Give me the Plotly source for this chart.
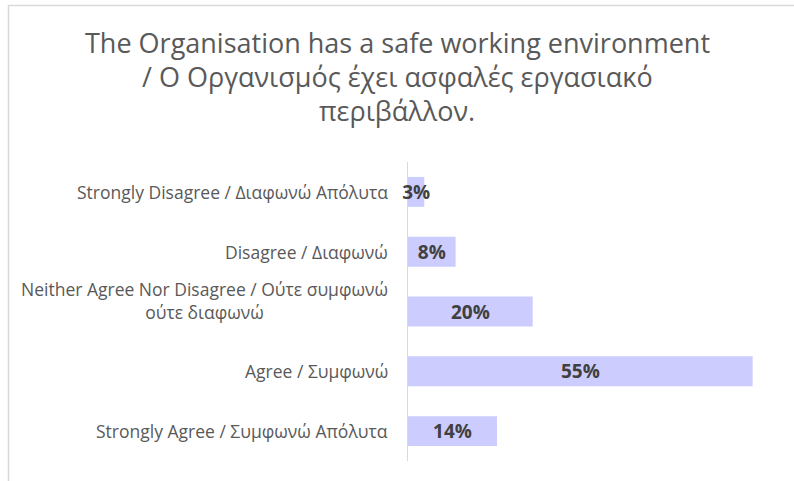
import plotly.graph_objects as go

categories = [
    "Strongly Disagree / Διαφωνώ Απόλυτα",
    "Disagree / Διαφωνώ",
    "Neither Agree Nor Disagree / Ούτε συμφωνώ<br>ούτε διαφωνώ",
    "Agree / Συμφωνώ",
    "Strongly Agree / Συμφωνώ Απόλυτα",
]
values = [2.6, 7.6, 19.9, 55.0, 14.2]
value_labels = ["3%", "8%", "20%", "55%", "14%"]
title_lines = [
    "The Organisation has a safe working environment",
    "/ Ο Οργανισμός έχει ασφαλές εργασιακό",
    "περιβάλλον.",
]

W, H = 794, 481
L, R, T, B = 408, 10, 162, 20
pw, ph = W - L - R, H - T - B

def px_x(p):
    return (p - L) / pw

def px_y(p):
    return (H - B - p) / ph

FONT = "'Open Sans', sans-serif"

fig = go.Figure(go.Bar(
    y=categories, x=values, orientation="h",
    marker=dict(color="#ccccff", line=dict(width=0)),
    text=value_labels, textposition="inside", insidetextanchor="middle",
    textangle=0, cliponaxis=False,
    textfont=dict(family=FONT, size=19, color="#404040", weight="bold"),
    hoverinfo="skip",
))

annotations = []
for c in categories:
    annotations.append(dict(
        x=px_x(390), xref="paper", y=c, yref="y", text=c,
        xanchor="right", yanchor="middle", align="center", showarrow=False,
        yshift=11 if "<br>" in c else 0,
        font=dict(family=FONT, size=17.5, color="#595959"),
    ))
title_y = [42, 77, 111]
for line, yy in zip(title_lines, title_y):
    annotations.append(dict(
        x=px_x(397), xref="paper", y=px_y(yy), yref="paper", text=line,
        xanchor="center", yanchor="middle", showarrow=False,
        font=dict(family=FONT, size=27, color="#595959"),
    ))

fig.update_layout(
    width=W, height=H,
    margin=dict(l=L, r=R, t=T, b=B),
    paper_bgcolor="white", plot_bgcolor="white",
    showlegend=False, bargap=0.5,
    uniformtext=dict(mode="show", minsize=19),
    xaxis=dict(range=[0, 60], visible=False, fixedrange=True),
    yaxis=dict(autorange="reversed", showticklabels=False, ticks="",
               showline=True, linecolor="#d9d9d9", linewidth=1,
               layer="below traces",
               showgrid=False, zeroline=False, fixedrange=True),
    annotations=annotations,
    shapes=[
        dict(type="line", xref="paper", yref="paper",
             x0=px_x(8), x1=px_x(800), y0=px_y(5.5), y1=px_y(5.5),
             line=dict(color="#d9d9d9", width=1.5)),
        dict(type="line", xref="paper", yref="paper",
             x0=px_x(8.5), x1=px_x(8.5), y0=px_y(5), y1=px_y(490),
             line=dict(color="#d9d9d9", width=1.5)),
    ],
)

fig.write_html("out.html", config={"displayModeBar": False})
with open("out.html", encoding="utf-8") as f:
    html = f.read()
html = html.replace("<head>", "<head><style>html,body{margin:0;padding:0;overflow:hidden}</style>", 1)
with open("out.html", "w", encoding="utf-8") as f:
    f.write(html)
